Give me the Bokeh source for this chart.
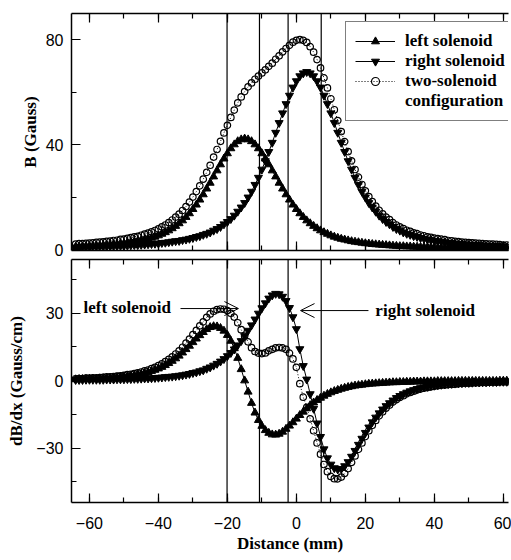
from bokeh.plotting import figure
from bokeh.models import (Range1d, LinearAxis, SingleIntervalTicker, Span, Label,
                          Legend, LegendItem, Arrow, OpenHead, ColumnDataSource)
from bokeh.layouts import column
from bokeh.embed import file_html
from bokeh.resources import INLINE

# ---------------- data ----------------
distance = list(range(-64, 63))  # mm

b_left = [1.2, 1.3, 1.3, 1.4, 1.4, 1.5, 1.6, 1.7, 1.8, 1.9,
          2.0, 2.1, 2.2, 2.4, 2.5, 2.7, 2.9, 3.1, 3.3, 3.6,
          3.9, 4.2, 4.6, 5.0, 5.5, 6.1, 6.7, 7.4, 8.2, 9.1,
          10.1, 11.2, 12.5, 13.9, 15.5, 17.2, 19.1, 21.1, 23.3, 25.5,
          27.9, 30.2, 32.5, 34.7, 36.7, 38.6, 40.1, 41.3, 42.0, 42.3,
          42.0, 41.3, 40.1, 38.6, 36.7, 34.7, 32.5, 30.2, 27.9, 25.5,
          23.3, 21.1, 19.1, 17.2, 15.5, 13.9, 12.5, 11.2, 10.1, 9.1,
          8.2, 7.4, 6.7, 6.1, 5.5, 5.0, 4.6, 4.2, 3.9, 3.6,
          3.3, 3.1, 2.9, 2.7, 2.5, 2.4, 2.2, 2.1, 2.0, 1.9,
          1.8, 1.7, 1.6, 1.5, 1.4, 1.4, 1.3, 1.3, 1.2, 1.2,
          1.1, 1.1, 1.0, 1.0, 1.0, 0.9, 0.9, 0.9, 0.8, 0.8,
          0.8, 0.8, 0.7, 0.7, 0.7, 0.7, 0.7, 0.6, 0.6, 0.6,
          0.6, 0.6, 0.6, 0.5, 0.5, 0.5, 0.5]

b_right = [1.0, 1.1, 1.1, 1.1, 1.2, 1.2, 1.3, 1.3, 1.3, 1.4,
           1.4, 1.5, 1.5, 1.6, 1.6, 1.7, 1.8, 1.9, 1.9, 2.0,
           2.1, 2.2, 2.3, 2.4, 2.5, 2.7, 2.8, 3.0, 3.2, 3.4,
           3.5, 3.8, 4.0, 4.3, 4.6, 5.0, 5.3, 5.8, 6.2, 6.7,
           7.4, 8.0, 8.8, 9.8, 10.7, 11.8, 13.1, 14.6, 16.2, 17.9,
           20.0, 22.2, 24.8, 27.5, 30.6, 33.8, 37.3, 40.8, 44.6, 48.3,
           52.0, 55.5, 58.7, 61.8, 64.2, 66.1, 67.2, 67.7, 67.2, 66.1,
           64.2, 61.8, 58.7, 55.5, 52.0, 48.3, 44.6, 40.8, 37.3, 33.8,
           30.6, 27.5, 24.8, 22.2, 20.0, 17.9, 16.2, 14.6, 13.1, 11.8,
           10.7, 9.8, 8.8, 8.0, 7.4, 6.7, 6.2, 5.8, 5.3, 5.0,
           4.6, 4.3, 4.0, 3.8, 3.5, 3.4, 3.2, 3.0, 2.8, 2.7,
           2.5, 2.4, 2.3, 2.2, 2.1, 2.0, 1.9, 1.9, 1.8, 1.7,
           1.6, 1.6, 1.5, 1.5, 1.4, 1.4, 1.3]

b_two = [2.2, 2.4, 2.4, 2.5, 2.6, 2.7, 2.9, 3.0, 3.1, 3.3,
         3.4, 3.6, 3.7, 4.0, 4.1, 4.4, 4.7, 5.0, 5.2, 5.6,
         6.0, 6.4, 6.9, 7.4, 8.0, 8.8, 9.5, 10.4, 11.4, 12.5,
         13.6, 15.0, 16.5, 18.2, 20.1, 22.2, 24.4, 26.9, 29.5, 32.2,
         35.3, 38.2, 41.3, 44.5, 47.4, 50.4, 53.2, 55.9, 58.2, 60.2,
         62.0, 63.5, 64.9, 66.1, 67.3, 68.5, 69.8, 71.0, 72.5, 73.8,
         75.3, 76.6, 77.8, 79.0, 79.7, 80.0, 79.7, 78.9, 77.3, 75.2,
         72.4, 69.2, 65.4, 61.6, 57.5, 53.3, 49.2, 45.0, 41.2, 37.4,
         33.9, 30.6, 27.7, 24.9, 22.5, 20.3, 18.4, 16.7, 15.1, 13.7,
         12.5, 11.5, 10.4, 9.5, 8.8, 8.1, 7.5, 7.1, 6.5, 6.2,
         5.7, 5.4, 5.0, 4.8, 4.5, 4.3, 4.1, 3.9, 3.6, 3.5,
         3.3, 3.2, 3.0, 2.9, 2.8, 2.7, 2.6, 2.5, 2.4, 2.3,
         2.2, 2.2, 2.1, 2.0, 1.9, 1.9, 1.8]

d_left = [0.5, 0.6, 0.6, 0.7, 0.7, 0.8, 0.8, 0.9, 1.0, 1.1,
          1.2, 1.3, 1.4, 1.5, 1.7, 1.9, 2.1, 2.3, 2.6, 2.9,
          3.3, 3.7, 4.2, 4.7, 5.3, 6.0, 6.8, 7.7, 8.7, 9.8,
          11.0, 12.4, 13.9, 15.4, 17.0, 18.6, 20.1, 21.5, 22.8, 23.7,
          24.1, 24.0, 23.3, 22.1, 20.2, 17.6, 14.3, 10.0, 5.0, 0.0,
          -5.0, -10.0, -14.3, -17.6, -20.2, -22.1, -23.3, -24.0, -24.1, -23.7,
          -22.8, -21.5, -20.1, -18.6, -17.0, -15.4, -13.9, -12.4, -11.0, -9.8,
          -8.7, -7.7, -6.8, -6.0, -5.3, -4.7, -4.2, -3.7, -3.3, -2.9,
          -2.6, -2.3, -2.1, -1.9, -1.7, -1.5, -1.4, -1.3, -1.2, -1.1,
          -1.0, -0.9, -0.8, -0.8, -0.7, -0.7, -0.6, -0.6, -0.5, -0.5,
          -0.5, -0.4, -0.4, -0.4, -0.4, -0.3, -0.3, -0.3, -0.3, -0.3,
          -0.3, -0.2, -0.2, -0.2, -0.2, -0.2, -0.2, -0.2, -0.2, -0.2,
          -0.2, -0.2, -0.2, -0.1, -0.1, -0.1, -0.1]

d_right = [0.3, 0.3, 0.3, 0.4, 0.4, 0.4, 0.4, 0.4, 0.4, 0.5,
           0.5, 0.5, 0.6, 0.6, 0.6, 0.7, 0.7, 0.8, 0.8, 0.9,
           1.0, 1.0, 1.1, 1.2, 1.3, 1.4, 1.6, 1.7, 1.8, 2.0,
           2.2, 2.4, 2.7, 3.0, 3.4, 3.7, 4.2, 4.6, 5.3, 5.9,
           6.7, 7.5, 8.5, 9.6, 10.9, 12.3, 13.9, 15.7, 17.6, 19.8,
           22.2, 24.6, 27.2, 29.8, 32.2, 34.4, 36.5, 37.9, 38.6, 38.4,
           37.3, 35.4, 32.3, 28.2, 22.9, 14.0, 6.5, 0.5, -6.0, -12.5,
           -19.0, -25.0, -30.5, -34.5, -37.3, -38.9, -39.5, -39.2, -38.0, -36.2,
           -33.8, -31.2, -28.5, -25.8, -23.2, -20.8, -18.5, -16.4, -14.5, -12.8,
           -11.3, -10.0, -8.8, -7.7, -6.8, -6.0, -5.3, -4.7, -4.2, -3.7,
           -3.3, -3.0, -2.7, -2.4, -2.2, -2.0, -1.8, -1.7, -1.5, -1.4,
           -1.3, -1.2, -1.1, -1.0, -1.0, -0.9, -0.8, -0.8, -0.7, -0.7,
           -0.6, -0.6, -0.6, -0.5, -0.5, -0.5, -0.4]

d_two = [0.8, 0.9, 0.9, 1.1, 1.1, 1.2, 1.2, 1.3, 1.4, 1.6,
         1.7, 1.8, 2.0, 2.1, 2.3, 2.6, 2.8, 3.1, 3.4, 3.8,
         4.3, 4.7, 5.3, 5.9, 6.6, 7.4, 8.4, 9.4, 10.5, 11.8,
         13.2, 14.8, 16.6, 18.4, 20.4, 22.3, 24.3, 26.1, 28.1, 29.6,
         30.8, 31.5, 31.8, 31.7, 31.1, 29.9, 28.2, 25.7, 22.6, 19.8,
         17.2, 14.6, 12.9, 12.2, 12.0, 12.3, 13.2, 13.9, 14.5, 14.7,
         14.5, 13.9, 12.2, 9.6, 5.9, -1.4, -7.4, -11.9, -17.0, -22.3,
         -27.7, -32.7, -37.3, -40.5, -42.6, -43.6, -43.7, -42.9, -41.3, -39.1,
         -36.4, -33.5, -30.6, -27.7, -24.9, -22.3, -19.9, -17.7, -15.7, -13.9,
         -12.3, -10.9, -9.6, -8.5, -7.5, -6.7, -5.9, -5.3, -4.7, -4.2,
         -3.8, -3.4, -3.1, -2.8, -2.6, -2.3, -2.1, -2.0, -1.8, -1.7,
         -1.6, -1.4, -1.3, -1.2, -1.2, -1.1, -1.0, -1.0, -0.9, -0.9,
         -0.8, -0.8, -0.8, -0.6, -0.6, -0.6, -0.5]

marker_lines = [-20.1, -10.7, -2.4, 7.2]  # vertical reference lines (mm)

x_ticks_major = 20
b_ticks_major = 40
d_ticks_major = 30

SERIF = "Liberation Serif"
SANS = "Liberation Sans"

src = ColumnDataSource(dict(x=distance, bl=b_left, br=b_right, bt=b_two,
                            dl=d_left, dr=d_right, dt=d_two))


def style_axis(ax, interval, labels=True):
    ax.ticker = SingleIntervalTicker(interval=interval, num_minor_ticks=2)
    ax.axis_line_width = 1.5
    ax.axis_line_color = "black"
    ax.major_tick_in = 9
    ax.major_tick_out = 0
    ax.minor_tick_in = 5
    ax.minor_tick_out = 0
    ax.major_tick_line_width = 1.2
    ax.minor_tick_line_width = 1.2
    ax.major_tick_line_color = "black"
    ax.minor_tick_line_color = "black"
    if labels:
        ax.major_label_text_font = SANS
        ax.major_label_text_font_size = "16px"
        ax.major_label_text_color = "black"
    else:
        ax.major_label_text_font_size = "1px"
        ax.major_label_text_color = None
        ax.major_label_standoff = 0


def make_fig(y_range, frame_h, bottom_border, top_border):
    p = figure(frame_width=437, frame_height=frame_h,
               x_range=Range1d(-65.2, 61.5), y_range=y_range,
               output_backend="svg", toolbar_location=None,
               min_border_left=71, min_border_right=3,
               min_border_top=top_border, min_border_bottom=bottom_border,
               background_fill_color="white", border_fill_color="white")
    p.outline_line_color = None
    p.xgrid.visible = False
    p.ygrid.visible = False
    return p


def style_ylabel(ax, text, standoff):
    ax.axis_label = text
    ax.axis_label_text_font = SERIF
    ax.axis_label_text_font_style = "bold"
    ax.axis_label_text_font_size = "17px"
    ax.axis_label_text_color = "black"
    ax.axis_label_standoff = standoff


# ---------------- top panel: B ----------------
top = make_fig(Range1d(-0.2, 89.9), 237, 8, 13)
style_axis(top.xaxis[0], x_ticks_major, labels=False)
style_axis(top.yaxis[0], b_ticks_major, labels=True)
top.yaxis[0].major_label_standoff = 8
style_ylabel(top.yaxis[0], "B (Gauss)", 3)
ax_top = LinearAxis()
style_axis(ax_top, x_ticks_major, labels=False)
top.add_layout(ax_top, "above")

l1 = top.line("x", "bl", source=src, line_color="black", line_width=1)
s1 = top.scatter("x", "bl", source=src, marker="triangle", size=8,
                 fill_color="black", line_color="black")
l2 = top.line("x", "br", source=src, line_color="black", line_width=1)
s2 = top.scatter("x", "br", source=src, marker="inverted_triangle", size=8,
                 fill_color="black", line_color="black")
l3 = top.line("x", "bt", source=src, line_color="black", line_width=1,
              line_dash="1 2")
s3 = top.scatter("x", "bt", source=src, marker="circle", size=6.5,
                 fill_color=None, line_color="black", line_width=1.2)
dummy = top.line([], [], line_alpha=0)

legend = Legend(items=[
    LegendItem(label="left solenoid", renderers=[l1, s1]),
    LegendItem(label="right solenoid", renderers=[l2, s2]),
    LegendItem(label="two-solenoid", renderers=[l3, s3]),
    LegendItem(label="configuration", renderers=[dummy]),
], location=(274, 129))
legend.label_text_font = SERIF
legend.label_text_font_style = "bold"
legend.label_text_font_size = "17px"
legend.label_text_color = "black"
legend.label_standoff = 10
legend.glyph_width = 40
legend.glyph_height = 20
legend.label_height = 20
legend.spacing = 0
legend.padding = 9
legend.margin = 0
legend.border_line_color = "black"
legend.border_line_width = 1.2
legend.background_fill_color = "white"
legend.background_fill_alpha = 1
top.add_layout(legend)

# ---------------- bottom panel: dB/dx ----------------
bot = make_fig(Range1d(-54.2, 53.8), 243, 50, 1)
style_axis(bot.xaxis[0], x_ticks_major, labels=True)
bot.xaxis[0].major_label_standoff = 14
bot.xaxis[0].axis_label = "Distance (mm)"
bot.xaxis[0].axis_label_text_font = SERIF
bot.xaxis[0].axis_label_text_font_style = "bold"
bot.xaxis[0].axis_label_text_font_size = "17px"
bot.xaxis[0].axis_label_text_color = "black"
bot.xaxis[0].axis_label_standoff = 2
style_axis(bot.yaxis[0], d_ticks_major, labels=True)
bot.yaxis[0].major_label_standoff = 8
style_ylabel(bot.yaxis[0], "dB/dx (Gauss/cm)", 7)
ax_top2 = LinearAxis()
style_axis(ax_top2, x_ticks_major, labels=False)
bot.add_layout(ax_top2, "above")

bot.line("x", "dl", source=src, line_color="black", line_width=1)
bot.scatter("x", "dl", source=src, marker="triangle", size=8,
            fill_color="black", line_color="black")
bot.line("x", "dr", source=src, line_color="black", line_width=1)
bot.scatter("x", "dr", source=src, marker="inverted_triangle", size=8,
            fill_color="black", line_color="black")
bot.line("x", "dt", source=src, line_color="black", line_width=1,
         line_dash="1 2")
bot.scatter("x", "dt", source=src, marker="circle", size=6.5,
            fill_color=None, line_color="black", line_width=1.2)

bot.add_layout(Label(x=-61.7, y=32.4, text="left solenoid",
                     text_align="left", text_baseline="middle",
                     text_font=SERIF, text_font_style="bold",
                     text_font_size="17px", text_color="black"))
bot.add_layout(Label(x=22.9, y=31.1, text="right solenoid",
                     text_align="left", text_baseline="middle",
                     text_font=SERIF, text_font_style="bold",
                     text_font_size="17px", text_color="black"))
bot.add_layout(Arrow(end=OpenHead(size=14, line_width=1, line_color="black"),
                     x_start=-33.6, y_start=32.0, x_end=-16.8, y_end=32.0,
                     line_width=1, line_color="black"))
bot.add_layout(Arrow(end=OpenHead(size=14, line_width=1, line_color="black"),
                     x_start=20.9, y_start=31.1, x_end=1.2, y_end=31.1,
                     line_width=1, line_color="black"))

for p in (top, bot):
    for loc in marker_lines:
        p.add_layout(Span(location=loc, dimension="height",
                          line_color="black", line_width=1.2))

layout = column(top, bot, spacing=0)
open("out.html", "w").write(file_html(layout, INLINE))
